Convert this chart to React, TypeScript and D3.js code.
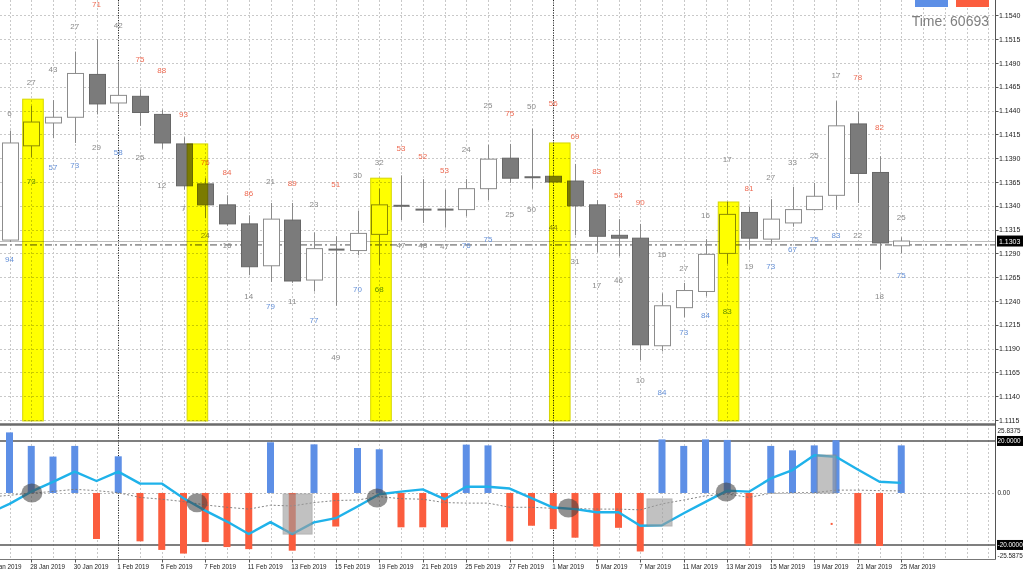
import * as d3 from "d3";

// 25 Jan 2019 .. 25 Mar 2019, one candle per trading day (42)
const opens = [1.1304, 1.1403, 1.1427, 1.1433, 1.1478, 1.1448, 1.1455, 1.1436, 1.1405, 1.1363, 1.1341, 1.1321, 1.1277, 1.1325, 1.1262, 1.1294, 1.1293, 1.131, 1.134, 1.1336, 1.1336, 1.1336, 1.1358, 1.139, 1.137, 1.1371, 1.1366, 1.1341, 1.1309, 1.1306, 1.1193, 1.1233, 1.125, 1.129, 1.1333, 1.1305, 1.1322, 1.1336, 1.1351, 1.1426, 1.1375, 1.1298];
const highs = [1.1419, 1.1445, 1.1451, 1.1502, 1.1515, 1.149, 1.1462, 1.1441, 1.1412, 1.1369, 1.1351, 1.133, 1.1343, 1.1343, 1.1312, 1.1308, 1.1335, 1.1358, 1.1372, 1.1368, 1.1357, 1.1368, 1.1404, 1.1405, 1.1421, 1.1373, 1.1384, 1.1346, 1.1326, 1.1321, 1.1248, 1.1259, 1.1305, 1.1344, 1.1339, 1.1347, 1.136, 1.1364, 1.145, 1.1439, 1.1392, 1.1307];
const lows = [1.1302, 1.1391, 1.1411, 1.1406, 1.1436, 1.1437, 1.1424, 1.14, 1.1357, 1.1327, 1.1319, 1.1267, 1.126, 1.1259, 1.125, 1.1235, 1.1288, 1.1278, 1.1325, 1.1322, 1.1317, 1.1329, 1.1346, 1.1364, 1.1358, 1.1363, 1.1309, 1.1291, 1.1287, 1.1178, 1.1187, 1.1223, 1.1245, 1.1279, 1.1294, 1.13, 1.1318, 1.1335, 1.1336, 1.1343, 1.1273, 1.129];
const closes = [1.1406, 1.1428, 1.1433, 1.1479, 1.1447, 1.1456, 1.1438, 1.1406, 1.1361, 1.1341, 1.1321, 1.1276, 1.1326, 1.1261, 1.1295, 1.1294, 1.1311, 1.1341, 1.134, 1.1336, 1.1336, 1.1358, 1.1389, 1.1369, 1.137, 1.1365, 1.134, 1.1308, 1.1306, 1.1194, 1.1235, 1.1251, 1.1289, 1.1331, 1.1306, 1.1326, 1.1336, 1.135, 1.1424, 1.1374, 1.1301, 1.1303];

// sell % above, buy % below each candle, and the price level where each number sits
const sellPct = [6, 27, 43, 27, 71, 42, 75, 88, 93, 76, 84, 86, 21, 89, 23, 51, 30, 32, 53, 52, 53, 24, 25, 75, 50, 56, 69, 83, 54, 90, 16, 27, 16, 17, 81, 27, 33, 25, 17, 78, 82, 25];
const buyPct = [94, 73, 57, 73, 29, 58, 25, 12, 7, 24, 16, 14, 79, 11, 77, 49, 70, 68, 47, 48, 47, 76, 75, 25, 50, 44, 31, 17, 46, 10, 84, 73, 84, 83, 19, 73, 67, 75, 83, 22, 18, 75];
const sellAt = [1.1437, 1.147, 1.1483, 1.1528, 1.1551, 1.1529, 1.1494, 1.1482, 1.1436, 1.1386, 1.1375, 1.1353, 1.1366, 1.1363, 1.1341, 1.1362, 1.1372, 1.1385, 1.14, 1.1392, 1.1377, 1.1399, 1.1445, 1.1437, 1.1444, 1.1447, 1.1413, 1.1376, 1.1351, 1.1343, 1.1289, 1.1274, 1.133, 1.1389, 1.1358, 1.137, 1.1385, 1.1393, 1.1477, 1.1475, 1.1422, 1.1328];
const buyAt = [1.1284, 1.1366, 1.138, 1.1382, 1.1401, 1.1396, 1.1391, 1.1361, 1.1337, 1.1309, 1.1298, 1.1245, 1.1234, 1.124, 1.122, 1.1181, 1.1252, 1.1252, 1.1298, 1.1298, 1.1297, 1.1298, 1.1305, 1.1331, 1.1336, 1.1317, 1.1281, 1.1256, 1.1262, 1.1157, 1.1144, 1.1207, 1.1225, 1.1229, 1.1276, 1.1276, 1.1294, 1.1305, 1.1309, 1.1309, 1.1245, 1.1267];

// yellow columns: centre (candle index) and top price
const markIdx = [1.08, 8.64, 17.08, 25.3, 33.06];
const markTop = [1.1452, 1.1405, 1.1369, 1.1406, 1.1344];
const markBottom = 1.1114;

const bidPrice = 1.1303;
const dashLevel = 1.1299;

// oscillator (lower pane)
const oscBars = [23.3, 18.1, 14.0, 18.1, -17.7, 14.1, -18.6, -21.9, -23.3, -18.9, -20.8, -21.6, 19.5, -22.2, 18.7, -12.9, 17.3, 16.8, -13.2, -13.2, -13.2, 18.6, 18.3, -18.6, -12.6, -13.9, -17.2, -20.6, -13.4, -22.5, 20.6, 18.1, 20.6, 20.4, -20.3, 18.1, 16.4, 18.3, 20.3, -19.5, -20.4, 18.3];
// lines start one day earlier (24 Jan)
const oscLine = [-8.0, -4.2, 0.5, 4.3, 8.2, 4.6, 8.2, 3.6, 3.6, -2.0, -6.8, -11.0, -15.8, -11.2, -15.8, -11.3, -9.7, -5.2, -0.5, 0.5, 1.4, -2.4, 2.4, 2.4, 1.7, -2.0, -5.6, -6.2, -7.4, -7.4, -12.6, -12.4, -7.8, -3.4, 0.9, 0.5, 5.6, 8.8, 14.5, 13.9, 9.0, 4.3, 3.9];
const oscSignal = [-1.6, -0.9, -0.1, 0.6, 1.4, 0.9, 0.1, -1.7, -2.4, -3.3, -4.6, -5.5, -6.2, -4.7, -5.0, -3.7, -2.9, -2.7, -1.4, -2.2, -2.4, -3.7, -3.9, -3.9, -5.5, -5.5, -5.9, -6.0, -6.2, -6.2, -6.5, -4.2, -2.7, -1.1, -0.4, -1.7, -0.1, 0.1, 0.1, 1.1, 1.1, 0.9, 0.8];

const crossIdx = [1.03, 8.62, 16.9, 25.7, 32.95];
const crossVal = [0, -3.8, -1.9, -5.8, 0.4];

const boxFrom = [12.58, 29.31, 37.13];
const boxTo = [13.91, 30.46, 38.0];
const boxHi = [-0.4, -2.3, 14.6];
const boxLo = [-15.8, -12.7, 0];

const priceTicks = [1.1115, 1.114, 1.1165, 1.119, 1.1215, 1.124, 1.1265, 1.129, 1.1315, 1.134, 1.1365, 1.139, 1.1415, 1.144, 1.1465, 1.149, 1.1515, 1.154];
const oscTicks = [25.8375, 20, 0, -20, -25.5875];
const oscTickText = ["25.8375", "20.0000", "0.00", "-20.0000", "-25.5875"];

// every second day, starting at 24 Jan (index -1)
const dateLabels = ["24 Jan 2019", "28 Jan 2019", "30 Jan 2019", "1 Feb 2019", "5 Feb 2019", "7 Feb 2019", "11 Feb 2019", "13 Feb 2019", "15 Feb 2019", "19 Feb 2019", "21 Feb 2019", "25 Feb 2019", "27 Feb 2019", "1 Mar 2019", "5 Mar 2019", "7 Mar 2019", "11 Mar 2019", "13 Mar 2019", "15 Mar 2019", "19 Mar 2019", "21 Mar 2019", "25 Mar 2019"];
const monthStarts = [5, 25];

const timeText = "Time: 60693";

const FONT = "'Liberation Sans', Arial, sans-serif";
const BLUE = "#5d8fe6";
const RED = "#fb5d3e";
const GREY_TXT = "#8a8a8a";
const RED_TXT = "#ee6a52";
const BLUE_TXT = "#6490d8";

const W = 1023;
const H = 575;
const AXIS_X = 995.5;
const MAIN_BOTTOM = 424.5;
const PANE_BOTTOM = 559.5;

const x = d3.scaleLinear().domain([0, 41]).range([9.5, 901.25]);
const y = d3.scaleLinear().domain([1.1115, 1.154]).range([420, 15.4]);
const yo = d3.scaleLinear().domain([-25.5875, 25.8375]).range([PANE_BOTTOM, 425.8]);

const half = (v: number) => Math.round(v) + 0.5;

export default function App() {
  const gridIdx = d3.range(0, 46).filter((i) => x(i) < AXIS_X - 2);

  const lineGen = d3
    .line<number>()
    .x((_, i) => x(i - 1))
    .y((d) => yo(d));

  return (
    <svg
      width={W}
      height={H}
      style={{ position: "absolute", left: 0, top: 0, background: "#fff", fontFamily: FONT }}
    >
      <rect x={0} y={0} width={W} height={H} fill="#fff" />

      {/* grid */}
      {gridIdx.map((i) => (
        <line
          key={"gv" + i}
          x1={half(x(i))}
          x2={half(x(i))}
          y1={0}
          y2={PANE_BOTTOM}
          stroke="#c9c9c9"
          strokeDasharray="2 2"
        />
      ))}
      {priceTicks.map((p) => (
        <line
          key={"gh" + p}
          x1={0}
          x2={AXIS_X}
          y1={half(y(p))}
          y2={half(y(p))}
          stroke="#c9c9c9"
          strokeDasharray="2 2"
        />
      ))}
      {monthStarts.map((i) => (
        <line
          key={"ms" + i}
          x1={half(x(i))}
          x2={half(x(i))}
          y1={0}
          y2={PANE_BOTTOM}
          stroke="#222"
          strokeDasharray="1 1.5"
        />
      ))}

      {/* price reference lines */}
      <line x1={0} x2={AXIS_X} y1={half(y(bidPrice))} y2={half(y(bidPrice))} stroke="#bdbdbd" />
      <line
        x1={0}
        x2={AXIS_X}
        y1={y(dashLevel)}
        y2={y(dashLevel)}
        stroke="#9a9a9a"
        strokeWidth={1.6}
        strokeDasharray="7 3 2 3"
      />

      {/* candles */}
      {opens.map((o, i) => {
        const c = closes[i];
        const cx = half(x(i));
        const doji = Math.abs(c - o) < 0.00005;
        const bull = c > o && !doji;
        const top = y(Math.max(o, c));
        const bot = y(Math.min(o, c));
        return (
          <g key={"c" + i}>
            <line x1={cx} x2={cx} y1={y(highs[i])} y2={y(lows[i])} stroke="#8a8a8a" />
            {doji ? (
              <rect x={cx - 8} y={top - 1} width={16} height={2} fill="#6a6a6a" />
            ) : (
              <rect
                x={cx - 8}
                y={top}
                width={16}
                height={Math.max(1, bot - top)}
                fill={bull ? "#fff" : "#7b7b7b"}
                stroke={bull ? "#8c8c8c" : "#676767"}
              />
            )}
          </g>
        );
      })}

      {/* sell / buy numbers */}
      {sellPct.map((v, i) => (
        <text
          key={"s" + i}
          x={x(i)}
          y={y(sellAt[i])}
          fontSize={8}
          textAnchor="middle"
          dominantBaseline="central"
          fill={v > 50 ? RED_TXT : GREY_TXT}
        >
          {v}
        </text>
      ))}
      {buyPct.map((v, i) => (
        <text
          key={"b" + i}
          x={x(i)}
          y={y(buyAt[i])}
          fontSize={8}
          textAnchor="middle"
          dominantBaseline="central"
          fill={v > 50 ? BLUE_TXT : GREY_TXT}
        >
          {v}
        </text>
      ))}

      {/* yellow columns */}
      {markIdx.map((m, k) => (
        <rect
          key={"m" + k}
          x={x(m) - 10.3}
          y={y(markTop[k])}
          width={20.6}
          height={y(markBottom) - y(markTop[k])}
          fill="#ffff00"
          stroke="#d6d600"
          strokeWidth={1}
          style={{ mixBlendMode: "multiply" }}
        />
      ))}

      <line x1={0} x2={AXIS_X} y1={MAIN_BOTTOM} y2={MAIN_BOTTOM} stroke="#6a6a6a" strokeWidth={2.5} />

      {/* oscillator pane */}
      <line x1={0} x2={AXIS_X} y1={half(yo(0))} y2={half(yo(0))} stroke="#bbb" strokeDasharray="2 2" />
      {[20, -20].map((v) => (
        <line key={"lv" + v} x1={0} x2={AXIS_X} y1={yo(v)} y2={yo(v)} stroke="#555" strokeWidth={1.6} />
      ))}
      {oscBars.map((v, i) => (
        <rect
          key={"ob" + i}
          x={x(i) - 3.5}
          y={v > 0 ? yo(v) : yo(0)}
          width={7}
          height={Math.abs(yo(v) - yo(0))}
          fill={v > 0 ? BLUE : RED}
        />
      ))}
      <path d={lineGen(oscSignal) ?? ""} fill="none" stroke="#777" strokeWidth={0.9} strokeDasharray="2 2" />
      <path d={lineGen(oscLine) ?? ""} fill="none" stroke="#1fb2ea" strokeWidth={2.4} strokeLinejoin="round" />
      {crossIdx.map((c, k) => (
        <ellipse key={"e" + k} cx={x(c)} cy={yo(crossVal[k])} rx={10.5} ry={9.5} fill="#444" opacity={0.58} />
      ))}
      {boxFrom.map((b, k) => (
        <rect
          key={"bx" + k}
          x={x(b)}
          y={yo(boxHi[k])}
          width={x(boxTo[k]) - x(b)}
          height={yo(boxLo[k]) - yo(boxHi[k])}
          fill="#9c9c9c"
          stroke="#888"
          opacity={0.62}
        />
      ))}
      <rect x={x(37.8) - 1} y={yo(-11.9) - 1} width={2} height={2} fill={RED} />

      <line x1={0} x2={AXIS_X} y1={PANE_BOTTOM} y2={PANE_BOTTOM} stroke="#777" />
      <line x1={AXIS_X} x2={AXIS_X} y1={0} y2={PANE_BOTTOM} stroke="#555" />

      {/* price axis */}
      {priceTicks.map((p) => (
        <g key={"pt" + p}>
          <line x1={AXIS_X} x2={AXIS_X + 3} y1={half(y(p))} y2={half(y(p))} stroke="#555" />
          <text x={999} y={y(p)} fontSize={7} dominantBaseline="central" fill="#222">
            {p.toFixed(4)}
          </text>
        </g>
      ))}
      <rect x={997} y={y(bidPrice) - 5.5} width={26} height={11} fill="#000" />
      <text x={999} y={y(bidPrice)} fontSize={7} dominantBaseline="central" fill="#fff">
        {bidPrice.toFixed(4)}
      </text>

      {/* oscillator axis */}
      {oscTicks.map((v, k) => {
        const boxed = Math.abs(v) === 20;
        const ty = k === 0 ? yo(v) + 5 : k === oscTicks.length - 1 ? yo(v) - 4.5 : yo(v);
        return (
          <g key={"ot" + k}>
            {boxed && <rect x={997} y={yo(v) - 5} width={26} height={10} fill="#000" />}
            <text x={997.5} y={ty} fontSize={6.4} dominantBaseline="central" fill={boxed ? "#fff" : "#222"}>
              {oscTickText[k]}
            </text>
          </g>
        );
      })}

      {/* date axis */}
      {dateLabels.map((d, k) => {
        const xi = x(2 * k - 1);
        return (
          <g key={"d" + k}>
            <line x1={half(xi)} x2={half(xi)} y1={PANE_BOTTOM} y2={PANE_BOTTOM + 3} stroke="#555" />
            <text x={xi - 1} y={568.5} fontSize={6.3} fill="#222">
              {d}
            </text>
          </g>
        );
      })}

      {/* top-right info */}
      <rect x={915} y={0} width={33} height={7} fill={BLUE} />
      <rect x={956} y={0} width={33} height={7} fill={RED} />
      <text x={989} y={26} fontSize={14} textAnchor="end" fill="#808080">
        {timeText}
      </text>
    </svg>
  );
}
